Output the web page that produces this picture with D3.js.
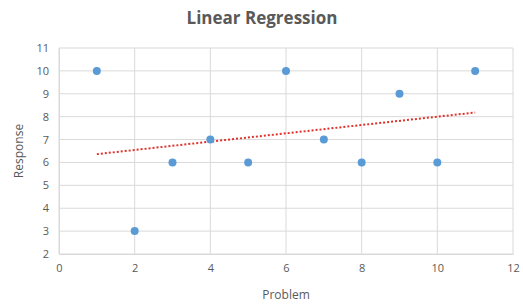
<!DOCTYPE html>
<html><head><meta charset="utf-8">
<script src="https://cdn.jsdelivr.net/npm/d3@7"></script>
<style>body{margin:0;background:#fff}svg{display:block}text{font-family:"Open Sans",sans-serif}</style>
</head><body><svg id="c" width="523" height="305"></svg>
<script>
const problems = [1,2,3,4,5,6,7,8,9,10,11];
const responses = [10,3,6,7,6,10,7,6,9,6,10];
const xTicks = [0,2,4,6,8,10,12];
const yTicks = [2,3,4,5,6,7,8,9,10,11];
const title = "Linear Regression";
const xTitle = "Problem";
const yTitle = "Response";

const svg = d3.select("#c");
const m = {l:59, r:10, t:48, b:51};
const W = 523, H = 305;
const x = d3.scaleLinear().domain([0,12]).range([m.l, W-m.r]);
const y = d3.scaleLinear().domain([2,11]).range([H-m.b, m.t]);
const gray = "#595959", grid = "#d9d9d9";

svg.append("g").selectAll("line").data(yTicks).join("line")
  .attr("x1", x(0)).attr("x2", x(12)).attr("y1", d=>y(d)).attr("y2", d=>y(d))
  .attr("stroke", grid).attr("stroke-width", 1);
svg.append("g").selectAll("line").data(xTicks).join("line")
  .attr("y1", y(2)).attr("y2", y(11)).attr("x1", d=>x(d)).attr("x2", d=>x(d))
  .attr("stroke", grid).attr("stroke-width", 1);

const xa = svg.append("g").attr("transform", `translate(0,${y(2)})`)
  .call(d3.axisBottom(x).tickValues(xTicks).tickSize(0).tickPadding(10));
const ya = svg.append("g").attr("transform", `translate(${x(0)},0)`)
  .call(d3.axisLeft(y).tickValues(yTicks).tickSize(0).tickPadding(10));
[xa, ya].forEach(a => {
  a.select(".domain").attr("stroke", grid);
  a.selectAll("text").attr("fill", gray).style("font-size", "11px").style("font-family", '"Open Sans",sans-serif');
});

// regression trendline computed from the data
const n = problems.length;
const mx = d3.mean(problems), my = d3.mean(responses);
let sxy = 0, sxx = 0;
problems.forEach((p,i)=>{ sxy += (p-mx)*(responses[i]-my); sxx += (p-mx)*(p-mx); });
const slope = sxy/sxx, icpt = my - slope*mx;
const xMin = d3.min(problems), xMax = d3.max(problems);
svg.append("line")
  .attr("x1", x(xMin)).attr("y1", y(icpt+slope*xMin))
  .attr("x2", x(xMax)).attr("y2", y(icpt+slope*xMax))
  .attr("stroke", "#e0312b").attr("stroke-width", 2).attr("stroke-dasharray", "2,2");

svg.append("g").selectAll("circle").data(problems).join("circle")
  .attr("cx", d=>x(d)).attr("cy", (d,i)=>y(responses[i])).attr("r", 4)
  .attr("fill", "#5b9bd5");

svg.append("text").attr("x", 262).attr("y", 24).attr("text-anchor", "middle")
  .attr("fill", gray).style("font-size", "17px").style("font-weight", "bold").text(title);
svg.append("text").attr("x", x(6)).attr("y", 299).attr("text-anchor", "middle")
  .attr("fill", gray).style("font-size", "12px").text(xTitle);
svg.append("text").attr("transform", `translate(23,${(y(2)+y(11))/2}) rotate(-90)`)
  .attr("text-anchor", "middle").attr("fill", gray).style("font-size", "12px").text(yTitle);
</script></body></html>
